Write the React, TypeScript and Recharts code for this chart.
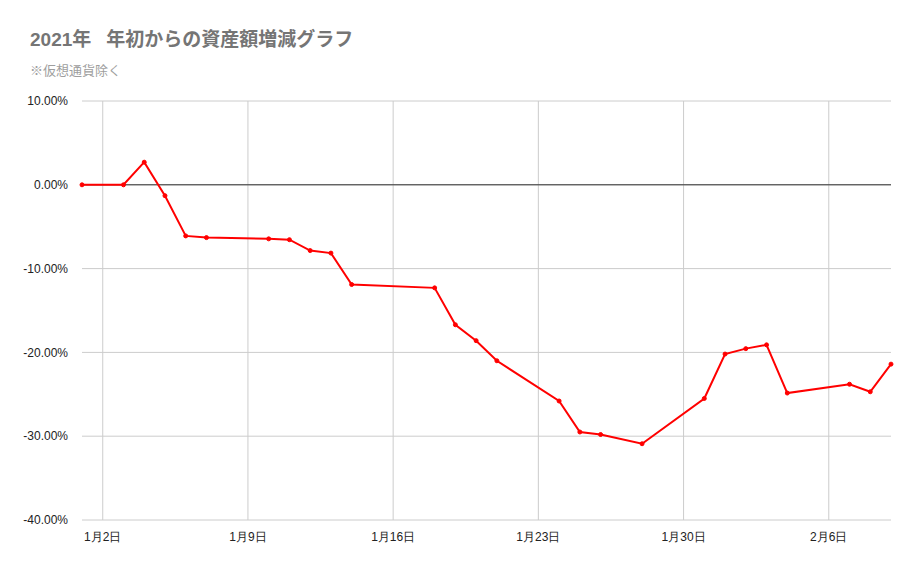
import React from "react";
import { LineChart, Line, XAxis, YAxis, CartesianGrid, ReferenceLine } from "recharts";

// Day offsets from Jan 1, 2021
const dayOffsets = [0, 2, 3, 4, 5, 6, 9, 10, 11, 12, 13, 17, 18, 19, 20, 23, 24, 25, 27, 30, 31, 32, 33, 34, 37, 38, 39];
const changePct = [0, 0, 2.7, -1.3, -6.1, -6.3, -6.45, -6.55, -7.85, -8.15, -11.9, -12.3, -16.7, -18.6, -21.0, -25.8, -29.5, -29.8, -30.9, -25.5, -20.2, -19.55, -19.1, -24.85, -23.8, -24.7, -21.4];
const xTicks = [1, 8, 15, 22, 29, 36];
const xTickLabels = ["1月2日", "1月9日", "1月16日", "1月23日", "1月30日", "2月6日"];
const yTicks = [10, 0, -10, -20, -30, -40];

const data = dayOffsets.map((d, i) => ({ day: d, value: changePct[i] }));

const tickFont = { fontFamily: "Arial, 'Liberation Sans', sans-serif", fontSize: 12, fill: "#222" };

export default function App() {
  return (
    <div style={{ position: "absolute", left: 0, top: 0, width: 921, height: 569, background: "#fff" }}>
      <div
        style={{
          position: "absolute",
          left: 30,
          top: 27,
          fontFamily: "Arial, 'Liberation Sans', 'Noto Sans CJK JP', sans-serif",
          fontWeight: 700,
          fontSize: 19,
          color: "#757575",
          lineHeight: "26px",
          whiteSpace: "pre",
        }}
      >
        <span style={{ marginRight: 15 }}>2021年</span>
        <span>年初からの資産額増減グラフ</span>
      </div>
      <div
        style={{
          position: "absolute",
          left: 30,
          top: 61,
          fontFamily: "'Noto Sans CJK JP', sans-serif",
          fontSize: 13,
          color: "#9e9e9e",
          lineHeight: "17px",
        }}
      >
        ※仮想通貨除く
      </div>
      <LineChart
        width={921}
        height={569}
        data={data}
        margin={{ top: 101, right: 30, bottom: 19, left: 0 }}
        style={{ position: "absolute", left: 0, top: 0 }}
      >
        <CartesianGrid stroke="#cccccc" strokeWidth={1} vertical={false} />
        {xTicks.map((t) => (
          <ReferenceLine key={t} x={t} stroke="#cccccc" strokeWidth={1} />
        ))}
        <XAxis
          dataKey="day"
          type="number"
          domain={[0, 39]}
          ticks={xTicks}
          tickFormatter={(v: number) => xTickLabels[xTicks.indexOf(v)] ?? ""}
          axisLine={false}
          tickLine={false}
          tick={tickFont}
          height={30}
          tickMargin={6}
          interval={0}
        />
        <YAxis
          type="number"
          domain={[-40, 10]}
          ticks={yTicks}
          tickFormatter={(v: number) => `${v.toFixed(2)}%`}
          axisLine={false}
          tickLine={false}
          tick={tickFont}
          width={82}
          tickMargin={8}
          interval={0}
        />
        <ReferenceLine y={0} stroke="#333333" strokeWidth={1} />
        <Line
          type="linear"
          dataKey="value"
          stroke="#ff0000"
          strokeWidth={2}
          dot={{ r: 2, fill: "#ff0000", stroke: "#ff0000", strokeWidth: 1 }}
          activeDot={false}
          isAnimationActive={false}
        />
      </LineChart>
    </div>
  );
}
